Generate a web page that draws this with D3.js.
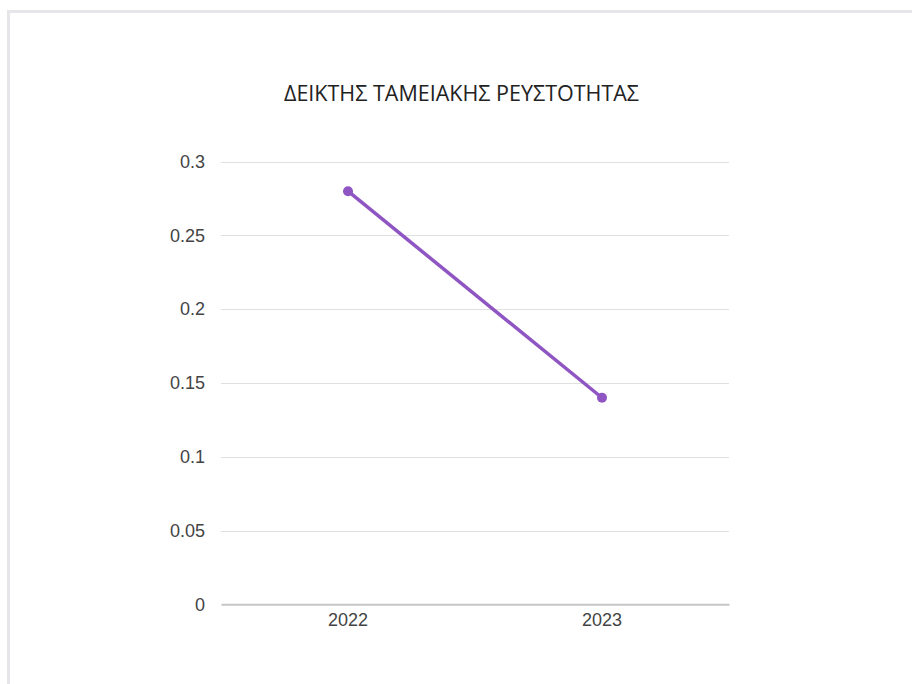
<!DOCTYPE html>
<html><head><meta charset="utf-8">
<script src="https://cdn.jsdelivr.net/npm/d3@7"></script>
<style>body{margin:0;background:#fff;}svg{display:block;}</style>
</head><body>
<svg id="c" width="912" height="684"></svg>
<script>
const title = "ΔΕΙΚΤΗΣ ΤΑΜΕΙΑΚΗΣ ΡΕΥΣΤΟΤΗΤΑΣ";
const categories = ["2022", "2023"];
const values = [0.28, 0.14];
const yTicks = [0, 0.05, 0.1, 0.15, 0.2, 0.25, 0.3];
const yTickLabels = ["0", "0.05", "0.1", "0.15", "0.2", "0.25", "0.3"];

const svg = d3.select("#c");
svg.append("rect").attr("x", 8.5).attr("y", 11.5).attr("width", 920).attr("height", 700)
  .attr("fill", "none").attr("stroke", "#e6e6ea").attr("stroke-width", 3);

const x = d3.scaleBand().domain(categories).range([221, 729]);
const y = d3.scaleLinear().domain([0, 0.3]).range([604.3, 161.7]);

svg.append("text").attr("x", 461.5).attr("y", 100.5).attr("text-anchor", "middle")
  .attr("font-family", "Open Sans").attr("font-size", 21.5).attr("fill", "#222").text(title);

const yAxis = d3.axisLeft(y).tickValues(yTicks).tickFormat((d, i) => yTickLabels[i]).tickSize(0).tickPadding(0);
const gy = svg.append("g").attr("transform", "translate(205,0)").call(yAxis);
gy.select(".domain").remove();
gy.selectAll("text").attr("font-family", "Liberation Sans, Arial").attr("font-size", 18).attr("fill", "#444");

svg.append("g").selectAll("line").data(yTicks.filter(d => d > 0)).join("line")
  .attr("x1", 221).attr("x2", 729).attr("y1", d => Math.round(y(d)) + 0.5).attr("y2", d => Math.round(y(d)) + 0.5)
  .attr("stroke", "#e0e0e0").attr("stroke-width", 1);

const xAxis = d3.axisBottom(x).tickSize(0).tickPadding(9);
const gx = svg.append("g").attr("transform", `translate(0,${y(0)})`).call(xAxis);
gx.select(".domain").attr("stroke", "#c6c6c6").attr("stroke-width", 2);
gx.selectAll("text").attr("font-family", "Liberation Sans, Arial").attr("font-size", 18).attr("fill", "#444");

const pts = categories.map((c, i) => [x(c) + x.bandwidth() / 2, y(values[i])]);
svg.append("path").attr("d", d3.line()(pts)).attr("fill", "none").attr("stroke", "#8e55c3").attr("stroke-width", 3.5);
svg.append("g").selectAll("circle").data(pts).join("circle")
  .attr("cx", d => d[0]).attr("cy", d => d[1]).attr("r", 5).attr("fill", "#8e55c3");
</script>
</body></html>
